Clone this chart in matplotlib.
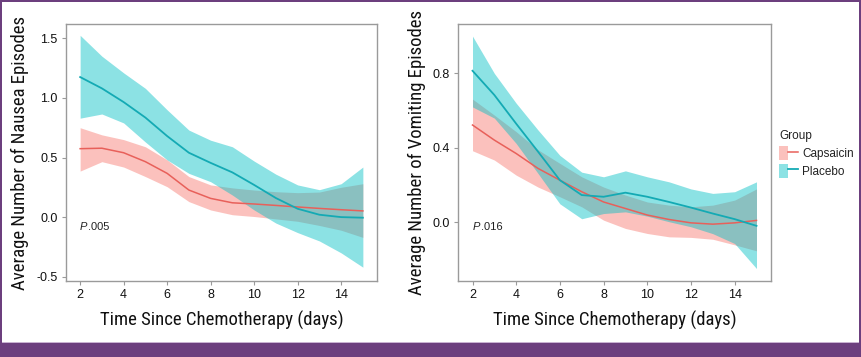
import matplotlib
matplotlib.use("Agg")
import matplotlib.pyplot as plt
from matplotlib.patches import Patch, Rectangle
from matplotlib.lines import Line2D
from matplotlib.legend_handler import HandlerTuple

# ---------------- data ----------------
days = [2, 3, 4, 5, 6, 7, 8, 9, 10, 11, 12, 13, 14, 15]

# Nausea
nau_pla_mean = [1.175, 1.08, 0.965, 0.835, 0.68, 0.54, 0.455, 0.375, 0.27, 0.16, 0.07, 0.02, 0.0, -0.005]
nau_pla_hi = [1.525, 1.35, 1.21, 1.08, 0.90, 0.73, 0.645, 0.59, 0.47, 0.36, 0.27, 0.23, 0.28, 0.42]
nau_pla_lo = [0.83, 0.865, 0.79, 0.63, 0.48, 0.367, 0.297, 0.185, 0.06, -0.05, -0.13, -0.20, -0.30, -0.42]
nau_cap_mean = [0.574, 0.578, 0.54, 0.465, 0.367, 0.227, 0.157, 0.12, 0.11, 0.098, 0.085, 0.073, 0.062, 0.052]
nau_cap_hi = [0.75, 0.69, 0.65, 0.59, 0.48, 0.34, 0.27, 0.245, 0.227, 0.213, 0.205, 0.21, 0.25, 0.28]
nau_cap_lo = [0.386, 0.465, 0.42, 0.34, 0.255, 0.13, 0.06, 0.02, 0.005, -0.015, -0.035, -0.07, -0.11, -0.17]

# Vomiting
vom_pla_mean = [0.814, 0.684, 0.53, 0.38, 0.227, 0.147, 0.138, 0.16, 0.138, 0.11, 0.08, 0.048, 0.018, -0.018]
vom_pla_hi = [1.0, 0.80, 0.64, 0.496, 0.36, 0.27, 0.245, 0.277, 0.245, 0.218, 0.18, 0.156, 0.165, 0.218]
vom_pla_lo = [0.62, 0.56, 0.424, 0.263, 0.10, 0.02, 0.048, 0.057, 0.034, 0.004, -0.023, -0.06, -0.113, -0.247]
vom_cap_mean = [0.523, 0.442, 0.37, 0.29, 0.227, 0.165, 0.11, 0.075, 0.04, 0.016, -0.002, -0.009, -0.002, 0.011]
vom_cap_hi = [0.662, 0.576, 0.487, 0.39, 0.317, 0.245, 0.19, 0.147, 0.11, 0.093, 0.084, 0.093, 0.12, 0.18]
vom_cap_lo = [0.385, 0.335, 0.254, 0.19, 0.138, 0.084, 0.0125, -0.032, -0.059, -0.077, -0.08, -0.09, -0.12, -0.152]

groups = ["Capsaicin", "Placebo"]
x_ticks = [2, 4, 6, 8, 10, 12, 14]
nau_yticks = [-0.5, 0.0, 0.5, 1.0, 1.5]
vom_yticks = [0.0, 0.4, 0.8]
p_texts = [".005", ".016"]

# ---------------- style ----------------
RED = "#F8766D"
TEAL = "#00BFC4"
RED_LINE = "#E8605A"
TEAL_LINE = "#14AAB4"
ALPHA = 0.45
FRAME = "#9a9a9a"
PURPLE = "#6c3f7e"

tick_font = ["Liberation Sans", "DejaVu Sans"]
title_font = ["Roboto Condensed", "Liberation Sans Narrow", "DejaVu Sans"]

fig = plt.figure(figsize=(8.61, 3.57), dpi=100)
fig.patch.set_facecolor("white")

W, H = 861.0, 357.0
ax1 = fig.add_axes([66 / W, 1 - 281 / H, (377 - 66) / W, (281 - 24) / H])
ax2 = fig.add_axes([458.3 / W, 1 - 281 / H, (770.7 - 458.3) / W, (281 - 24) / H])


def draw(ax, cap_m, cap_hi, cap_lo, pla_m, pla_hi, pla_lo, yticks, ylim, ylabel, ptxt, ptxt_y):
    ax.fill_between(days, cap_lo, cap_hi, color=RED, alpha=ALPHA, linewidth=0)
    ax.plot(days, cap_m, color=RED_LINE, lw=1.1)
    ax.fill_between(days, pla_lo, pla_hi, color=TEAL, alpha=ALPHA, linewidth=0)
    ax.plot(days, pla_m, color=TEAL_LINE, lw=1.3)
    ax.set_xlim(1.35, 15.65)
    ax.set_ylim(*ylim)
    ax.set_xticks(x_ticks)
    ax.set_yticks(yticks)
    ax.set_yticklabels([f"{v:.1f}" for v in yticks])
    for sp in ax.spines.values():
        sp.set_color(FRAME)
        sp.set_linewidth(1.0)
    ax.tick_params(axis="both", length=3, width=0.8, color=FRAME, labelsize=9,
                   labelcolor="#111111", pad=3)
    for lab in ax.get_xticklabels() + ax.get_yticklabels():
        lab.set_family(tick_font)
    ax.set_xlabel("Time Since Chemotherapy (days)", fontsize=13.5, family=title_font,
                  color="#111111", labelpad=7)
    ax.set_ylabel(ylabel, fontsize=13.5, family=title_font, color="#111111", labelpad=5)
    ax.text(2.0, ptxt_y, "P", fontsize=8, style="italic", family=tick_font,
            color="#222222", va="center", ha="left")
    ax.text(2.38, ptxt_y, ptxt, fontsize=8, family=tick_font,
            color="#222222", va="center", ha="left")


draw(ax1, nau_cap_mean, nau_cap_hi, nau_cap_lo, nau_pla_mean, nau_pla_hi, nau_pla_lo,
     nau_yticks, (-0.536, 1.62), "Average Number of Nausea Episodes", p_texts[0], -0.08)
draw(ax2, vom_cap_mean, vom_cap_hi, vom_cap_lo, vom_pla_mean, vom_pla_hi, vom_pla_lo,
     vom_yticks, (-0.314, 1.065), "Average Number of Vomiting Episodes", p_texts[1], -0.025)

# legend
handles = [
    (Patch(facecolor=RED, alpha=ALPHA, edgecolor="none"), Line2D([], [], color=RED_LINE, lw=1.1)),
    (Patch(facecolor=TEAL, alpha=ALPHA, edgecolor="none"), Line2D([], [], color=TEAL_LINE, lw=1.3)),
]
leg = fig.legend(handles, groups, title="Group", loc="upper left",
                 bbox_to_anchor=(779 / W, 1 - 130 / H), frameon=False,
                 handler_map={tuple: HandlerTuple(ndivide=None, pad=0)},
                 handlelength=1.6, handleheight=1.4, handletextpad=0.35,
                 labelspacing=0.35, fontsize=8.5, title_fontsize=8.5, borderaxespad=0,
                 borderpad=0)
leg._legend_box.align = "left"
for t in leg.get_texts():
    t.set_family(tick_font)
    t.set_color("#222222")
leg.get_title().set_family(tick_font)
leg.get_title().set_color("#222222")

# purple border
fig.patches.append(Rectangle((0, 0), 1, 14 / H, transform=fig.transFigure,
                             facecolor=PURPLE, edgecolor="none", zorder=10))
fig.patches.append(Rectangle((0, 14 / H), 1, 1.5 / H, transform=fig.transFigure,
                             facecolor="#c9b3d2", edgecolor="none", zorder=10))
fig.patches.append(Rectangle((0, 0), 2 / W, 1, transform=fig.transFigure,
                             facecolor=PURPLE, edgecolor="none", zorder=10))
fig.patches.append(Rectangle((1 - 2.5 / W, 0), 2.5 / W, 1, transform=fig.transFigure,
                             facecolor=PURPLE, edgecolor="none", zorder=10))
fig.patches.append(Rectangle((0, 1 - 1.5 / H), 1, 1.5 / H, transform=fig.transFigure,
                             facecolor=PURPLE, edgecolor="none", zorder=10))

fig.savefig("out.png", dpi=100, facecolor="white")
